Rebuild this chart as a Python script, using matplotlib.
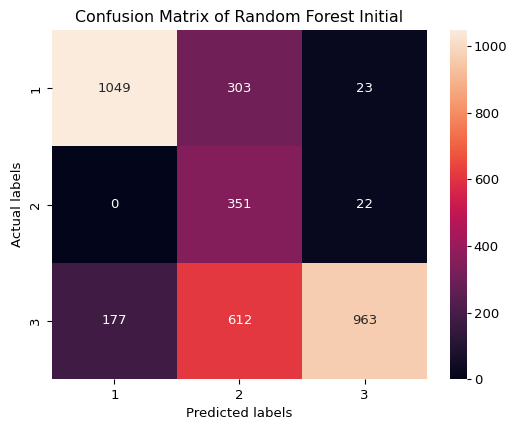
import matplotlib
matplotlib.use("Agg")
import matplotlib.pyplot as plt
import seaborn as sns
import numpy as np

labels = ["1", "2", "3"]
row1 = [1049, 303, 23]
row2 = [0, 351, 22]
row3 = [177, 612, 963]

cm = np.array([row1, row2, row3])

fs = 9.5
fig = plt.figure(figsize=(5.09, 4.24), dpi=100)
ax = fig.add_axes([0.102, 0.106, 0.737, 0.823])
cax = fig.add_axes([0.884, 0.106, 0.033, 0.823])
sns.heatmap(cm, annot=True, fmt="d", ax=ax, cbar_ax=cax,
            xticklabels=labels, yticklabels=labels,
            annot_kws={"fontsize": fs})
ax.set_title("Confusion Matrix of Random Forest Initial", fontsize=11.4)
ax.set_xlabel("Predicted labels", fontsize=fs)
ax.set_ylabel("Actual labels", fontsize=fs)
ax.tick_params(labelsize=fs)
cax.tick_params(labelsize=fs, length=3, pad=2)
fig.savefig("out.png", dpi=100)
